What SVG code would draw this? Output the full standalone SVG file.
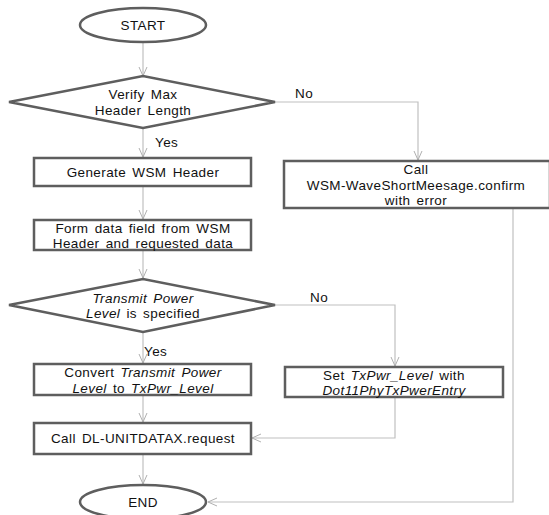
<svg xmlns="http://www.w3.org/2000/svg" width="549" height="515" viewBox="0 0 549 515">
<defs>
<marker id="arr" markerWidth="12" markerHeight="12" refX="10" refY="5" orient="auto" markerUnits="userSpaceOnUse" viewBox="0 0 12 10">
<path d="M1,1 L10,5 L1,9" fill="none" stroke="#b0b0b0" stroke-width="1"/>
</marker>
<style>
.shape{fill:#fff;stroke:#5e5e5e;stroke-width:2.5}
.conn{fill:none;stroke:#c0c0c0;stroke-width:1.2;marker-end:url(#arr)}
text{font-family:"Liberation Sans",Arial,sans-serif;font-size:13.5px;letter-spacing:0.4px;fill:#111;word-spacing:2px}
.c{text-anchor:middle}
.i{font-style:italic}
</style>
</defs>
<rect width="549" height="515" fill="#fff"/>
<g id="connectors">
<line class="conn" x1="143" y1="42" x2="143" y2="76"/>
<polyline class="conn" points="275,102 418,102 418,160"/>
<line class="conn" x1="143" y1="128" x2="143" y2="157"/>
<line class="conn" x1="143" y1="186" x2="143" y2="219"/>
<line class="conn" x1="143" y1="250" x2="143" y2="278"/>
<polyline class="conn" points="275,305 395,305 395,366"/>
<line class="conn" x1="143" y1="332" x2="143" y2="363"/>
<polyline class="conn" points="395,397 395,438 252,438"/>
<line class="conn" x1="143" y1="395" x2="143" y2="422"/>
<line class="conn" x1="143" y1="454" x2="143" y2="484"/>
<polyline class="conn" points="513,208 513,502 208,502"/>
<text x="295" y="98">No</text>
<text x="155" y="147">Yes</text>
<text x="310" y="302">No</text>
<text x="144" y="356">Yes</text>
</g>
<g id="start">
<ellipse class="shape" cx="143" cy="25" rx="63" ry="17"/>
<text class="c" x="143" y="30">START</text>
</g>
<g id="verify">
<polygon class="shape" points="9,102 143,76 275,102 143,128"/>
<text class="c" x="143" y="99">Verify Max</text>
<text class="c" x="143" y="114.5">Header Length</text>
</g>
<g id="generate">
<rect class="shape" x="34" y="158" width="217" height="28"/>
<text class="c" x="143" y="177">Generate WSM Header</text>
</g>
<g id="callerror">
<rect class="shape" x="284" y="161" width="266" height="47"/>
<text class="c" x="416" y="174">Call</text>
<text class="c" x="416" y="189.5">WSM-WaveShortMeesage.confirm</text>
<text class="c" x="416" y="205">with error</text>
</g>
<g id="form">
<rect class="shape" x="34" y="220" width="217" height="30"/>
<text class="c" x="143" y="232.5">Form data field from WSM</text>
<text class="c" x="143" y="248">Header and requested data</text>
</g>
<g id="power">
<polygon class="shape" points="9,305 143,279 275,305 143,332"/>
<text class="c" x="143" y="302.5"><tspan class="i">Transmit Power</tspan></text>
<text class="c" x="143" y="318"><tspan class="i">Level</tspan> is specified</text>
</g>
<g id="convert">
<rect class="shape" x="34" y="364" width="217" height="31"/>
<text class="c" x="143" y="377">Convert <tspan class="i">Transmit Power</tspan></text>
<text class="c" x="143" y="392.5"><tspan class="i">Level</tspan> to <tspan class="i">TxPwr_Level</tspan></text>
</g>
<g id="set">
<rect class="shape" x="285" y="367" width="218" height="30"/>
<text class="c" x="394" y="379.5">Set <tspan class="i">TxPwr_Level</tspan> with</text>
<text class="c" x="394" y="395"><tspan class="i">Dot11PhyTxPwerEntry</tspan></text>
</g>
<g id="calldl">
<rect class="shape" x="34" y="423" width="217" height="31"/>
<text class="c" x="143" y="443">Call DL-UNITDATAX.request</text>
</g>
<g id="end">
<ellipse class="shape" cx="143" cy="502" rx="63" ry="17"/>
<text class="c" x="143" y="507">END</text>
</g>
</svg>
